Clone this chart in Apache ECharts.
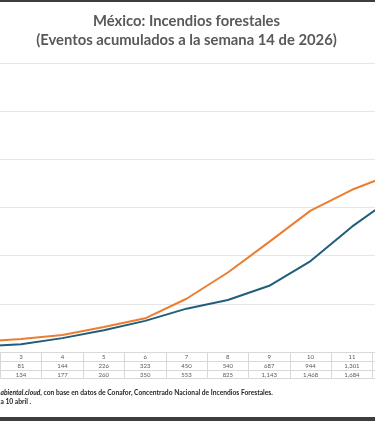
<!DOCTYPE html>
<html>
<head>
<meta charset="utf-8">
<script src="https://cdn.jsdelivr.net/npm/echarts@6/dist/echarts.min.js"></script>
<style>
html,body{margin:0;padding:0;background:#fff;overflow:hidden;width:375px;height:421px;position:relative;}
#chart{position:absolute;left:-41.4px;top:0;width:455.4px;height:421px;}
.bar{position:absolute;left:0;width:375px;background:#3d3d3d;}
</style>
</head>
<body>
<div id="chart"></div>
<div class="bar" style="top:0;height:2px;"></div>
<div class="bar" style="top:417px;height:4px;"></div>
<script>
// Weeks (week 2 and 12 lie just outside the visible crop)
const weeks = ['2','3','4','5','6','7','8','9','10','11','12'];
const serieAzul = [56, 81, 144, 226, 323, 450, 540, 687, 944, 1301, 1607];
const serieNaranja = [106, 134, 177, 260, 350, 553, 825, 1143, 1468, 1684, 1850];
const yTicks = [0, 500, 1000, 1500, 2000, 2500, 3000];

const titleText = 'México: Incendios forestales\n(Eventos acumulados a la semana 14 de 2026)';
const fuente1 = 'abiental.cloud';
const fuente2 = ', con base en datos de Conafor, Concentrado Nacional de Incendios Forestales.';
const fuente3 = 'a 10 abril .';

const fmt = v => v.toLocaleString('en-US');
const FONT = 'Lato';
const gridColor = '#d9d9d9';

const chart = echarts.init(document.getElementById('chart'), null, {renderer: 'canvas'});
const tableAxis = (offset, labels, showLabel) => ({
  type: 'category',
  data: weeks,
  position: 'bottom',
  offset: offset,
  boundaryGap: true,
  axisLine: {show: true, lineStyle: {color: gridColor, width: 1}},
  axisTick: {show: false},
  axisLabel: {
    show: showLabel,
    interval: 0,
    margin: 2,
    fontSize: 6,
    fontFamily: FONT,
    color: '#595959',
    formatter: (v, i) => labels ? labels[i] : v
  },
  splitLine: {show: false}
});

const xAxes = [
  Object.assign(tableAxis(0, null, true), {
    axisTick: {show: true, length: 26, inside: false, lineStyle: {color: gridColor, width: 1}}
  }),
  tableAxis(9, serieAzul.map(fmt), true),
  tableAxis(18, serieNaranja.map(fmt), true),
  tableAxis(26, null, false)
];

chart.setOption({
  animation: false,
  backgroundColor: '#ffffff',
  title: [
    {
      text: titleText,
      left: 'center',
      top: 7,
      textStyle: {fontFamily: FONT, fontWeight: 'bold', fontSize: 14.8, lineHeight: 18.5, color: '#595959'}
    },
    {
      text: '{i|' + fuente1 + '}{n|' + fuente2 + '}\n{n|' + fuente3 + '}',
      left: 41.4,
      top: 388,
      padding: 0,
      textStyle: {
        rich: {
          i: {fontFamily: FONT, fontStyle: 'italic', fontSize: 6.7, color: '#262626', lineHeight: 9.5},
          n: {fontFamily: FONT, fontSize: 6.7, color: '#262626', lineHeight: 9.5}
        }
      }
    }
  ],
  grid: {left: 0, right: 0, top: 63, bottom: 69, containLabel: false},
  xAxis: xAxes,
  yAxis: {
    type: 'value',
    min: yTicks[0],
    max: yTicks[yTicks.length - 1],
    interval: 500,
    axisLine: {show: false},
    axisTick: {show: false},
    axisLabel: {show: false},
    splitLine: {show: true, lineStyle: {color: '#e6e6e6', width: 1}}
  },
  series: [
    {
      name: '2026',
      type: 'line',
      data: serieAzul,
      xAxisIndex: 0,
      symbol: 'none',
      lineStyle: {color: '#205e7b', width: 2},
      itemStyle: {color: '#205e7b'}
    },
    {
      name: '2025',
      type: 'line',
      data: serieNaranja,
      xAxisIndex: 0,
      symbol: 'none',
      lineStyle: {color: '#ed7d31', width: 2},
      itemStyle: {color: '#ed7d31'}
    }
  ]
});
</script>
</body>
</html>
